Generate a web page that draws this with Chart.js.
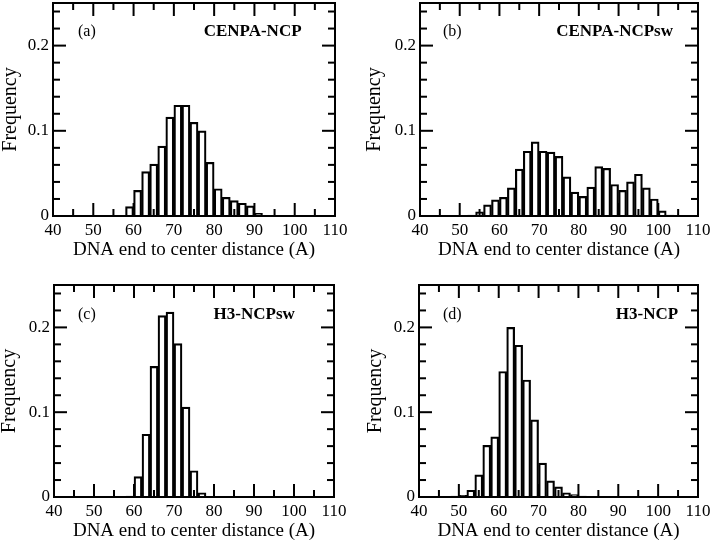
<!DOCTYPE html>
<html><head><meta charset="utf-8">
<script src="https://cdn.jsdelivr.net/npm/chart.js@4"></script>
<style>
html,body{margin:0;padding:0;background:#fff;overflow:hidden;width:715px;height:541px}
canvas{position:absolute}
</style></head><body>
<canvas id="pa" width="357" height="270" style="left:0;top:0"></canvas>
<canvas id="pb" width="358" height="270" style="left:357px;top:0"></canvas>
<canvas id="pc" width="357" height="271" style="left:0;top:270px"></canvas>
<canvas id="pd" width="358" height="271" style="left:357px;top:270px"></canvas>
<script>
// ---- data ----
const xTickLabels = [40, 50, 60, 70, 80, 90, 100, 110];
const xMinorTicks = [45, 55, 65, 75, 85, 95, 105];
const yTickLabels = [0, 0.1, 0.2];
const yMinorTicks = [0.02, 0.04, 0.06, 0.08, 0.12, 0.14, 0.16, 0.18, 0.22, 0.24];
const xTitle = 'DNA end to center distance (A)';
const yTitle = 'Frequency';

const binsA = [59, 61, 63, 65, 67, 69, 71, 73, 75, 77, 79, 81, 83, 85, 87, 89, 91];
const freqA = [0.011, 0.030, 0.052, 0.061, 0.082, 0.116, 0.130, 0.130, 0.110, 0.100, 0.063, 0.032, 0.022, 0.018, 0.015, 0.012, 0.003];

const binsB = [53, 55, 57, 59, 61, 63, 65, 67, 69, 71, 73, 75, 77, 79, 81, 83, 85, 87, 89, 91, 93, 95, 97, 99, 101, 103];
const freqB = [0.001, 0.005, 0.013, 0.019, 0.022, 0.033, 0.055, 0.076, 0.087, 0.076, 0.075, 0.070, 0.046, 0.028, 0.023, 0.034, 0.058, 0.056, 0.037, 0.030, 0.040, 0.049, 0.033, 0.020, 0.006, 0.001];

const binsC = [59, 61, 63, 65, 67, 69, 71, 73, 75, 77];
const freqC = [0.001, 0.024, 0.074, 0.154, 0.214, 0.218, 0.181, 0.106, 0.031, 0.005];

const binsD = [49, 51, 53, 55, 57, 59, 61, 63, 65, 67, 69, 71, 73, 75, 77, 79, 81];
const freqD = [0.001, 0.002, 0.008, 0.026, 0.061, 0.071, 0.148, 0.200, 0.179, 0.138, 0.091, 0.040, 0.019, 0.012, 0.005, 0.003, 0.001];

const tags = ['(a)', '(b)', '(c)', '(d)'];
const names = ['CENPA-NCP', 'CENPA-NCPsw', 'H3-NCPsw', 'H3-NCP'];

// ---- drawing ----
const FONT = '"Liberation Serif", "Times New Roman", serif';

function drawTickMarks(chart, color, majorLen, minorLen, w) {
  const ctx = chart.ctx;
  const a = chart.chartArea;
  const xs = chart.scales.x, ys = chart.scales.y;
  const L = a.left, R = a.right, T = a.top, B = a.bottom;
  ctx.save();
  ctx.fillStyle = color;
  for (let i = 0; i < xTickLabels.length + xMinorTicks.length; i++) {
    const major = i < xTickLabels.length;
    const v = major ? xTickLabels[i] : xMinorTicks[i - xTickLabels.length];
    const len = major ? majorLen : minorLen;
    const p = xs.getPixelForValue(v);
    ctx.fillRect(p - w / 2, B - len, w, len);
    ctx.fillRect(p - w / 2, T, w, len);
  }
  for (let i = 0; i < yTickLabels.length + yMinorTicks.length; i++) {
    const major = i < yTickLabels.length;
    const v = major ? yTickLabels[i] : yMinorTicks[i - yTickLabels.length];
    const len = major ? majorLen : minorLen;
    const p = ys.getPixelForValue(v);
    ctx.fillRect(L, p - w / 2, len, w);
    ctx.fillRect(R - len, p - w / 2, len, w);
  }
  ctx.restore();
}

const framePlugin = {
  id: 'panelFrame',
  afterDraw(chart) {
    const ctx = chart.ctx;
    const a = chart.chartArea;
    const xs = chart.scales.x, ys = chart.scales.y;
    const o = chart.options.plugins.panelFrame;
    const L = Math.round(a.left), R = Math.round(a.right), T = Math.round(a.top), B = Math.round(a.bottom);
    drawTickMarks(chart, '#000000', 13, 7, 2);
    ctx.save();
    ctx.fillStyle = '#000000';
    ctx.fillRect(L - 1, T - 1, R - L + 2, 2);
    ctx.fillRect(L - 1, B - 1, R - L + 2, 2);
    ctx.fillRect(L - 1, T - 1, 2, B - T + 2);
    ctx.fillRect(R - 1, T - 1, 2, B - T + 2);
    ctx.textBaseline = 'middle';
    ctx.font = '16px ' + FONT;
    ctx.textAlign = 'left';
    ctx.fillText(o.tag, xs.getPixelForValue(o.tagX), ys.getPixelForValue(o.labelY));
    ctx.font = 'bold 17px ' + FONT;
    ctx.textAlign = 'right';
    ctx.fillText(o.name, xs.getPixelForValue(o.nameX), ys.getPixelForValue(o.labelY));
    ctx.restore();
  }
};

function panel(id, bins, freq, cfg) {
  new Chart(document.getElementById(id), {
    type: 'bar',
    data: {
      datasets: [{
        data: bins.map((b, i) => ({x: b, y: freq[i]})),
        backgroundColor: '#fff',
        borderColor: '#000',
        borderWidth: 2.2,
        barPercentage: 1,
        categoryPercentage: 1
      }]
    },
    options: {
      responsive: false,
      animation: false,
      devicePixelRatio: 1,
      layout: {padding: {top: cfg.padTop, right: cfg.padRight, left: 0, bottom: 0}},
      plugins: {
        legend: {display: false},
        tooltip: {enabled: false},
        panelFrame: {tag: cfg.tag, name: cfg.name, tagX: cfg.tagX, nameX: cfg.nameX, labelY: cfg.labelY}
      },
      scales: {
        x: {
          type: 'linear', min: 40, max: 110, offset: false,
          afterBuildTicks: s => { s.ticks = xTickLabels.map(v => ({value: v})); },
          afterFit: s => { s.height = cfg.xH; s.paddingLeft = 0; s.paddingRight = 0; },
          grid: {display: false, drawTicks: false},
          border: {display: false},
          ticks: {color: '#000', font: {family: FONT, size: 17}, padding: 4, maxRotation: 0, autoSkip: false},
          title: {display: true, text: xTitle, color: '#000', font: {family: FONT, size: 19, lineHeight: 1}, padding: {top: 0, bottom: cfg.xTitlePad}}
        },
        y: {
          min: 0, max: 0.25,
          afterBuildTicks: s => { s.ticks = yTickLabels.map(v => ({value: v})); },
          afterFit: s => { s.width = cfg.yW; s.paddingTop = 0; s.paddingBottom = 0; },
          grid: {display: false, drawTicks: false},
          border: {display: false},
          ticks: {color: '#000', font: {family: FONT, size: 17}, padding: 4,
                  callback: v => v === 0 ? '0' : v.toFixed(1)},
          title: {display: true, text: yTitle, color: '#000', font: {family: FONT, size: 20, lineHeight: 1}, padding: {top: cfg.yTitlePad, bottom: 0}}
        }
      }
    },
    plugins: [framePlugin]
  });
}

panel('pa', binsA, freqA, {padTop: 3, padRight: 22, xH: 54, yW: 53, xTitlePad: 10, yTitlePad: 1,
  tag: tags[0], name: names[0], tagX: 46.2, nameX: 101.7, labelY: 0.216});
panel('pb', binsB, freqB, {padTop: 3, padRight: 17, xH: 54, yW: 63, xTitlePad: 10, yTitlePad: 8,
  tag: tags[1], name: names[1], tagX: 45.8, nameX: 103.7, labelY: 0.216});
panel('pc', binsC, freqC, {padTop: 15, padRight: 23, xH: 44, yW: 54, xTitlePad: 0, yTitlePad: 0,
  tag: tags[2], name: names[2], tagX: 46, nameX: 100.2, labelY: 0.215});
panel('pd', binsD, freqD, {padTop: 15, padRight: 17, xH: 44, yW: 62, xTitlePad: 0, yTitlePad: 9,
  tag: tags[3], name: names[3], tagX: 46, nameX: 105, labelY: 0.215});
</script>
</body></html>
